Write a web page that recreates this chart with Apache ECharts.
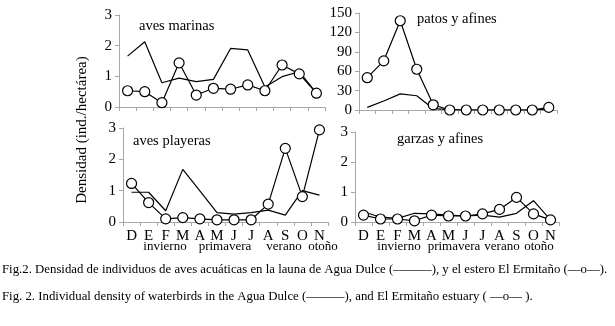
<!DOCTYPE html>
<html>
<head>
<meta charset="utf-8">
<script src="https://cdn.jsdelivr.net/npm/echarts@6/dist/echarts.min.js"></script>
<style>
  html, body { margin: 0; padding: 0; background: #fff; }
  #chart { width: 615px; height: 326px; }
</style>
</head>
<body>
<div id="chart"></div>
<script>
// months, Dec -> Nov
var months = ['D', 'E', 'F', 'M', 'A', 'M', 'J', 'J', 'A', 'S', 'O', 'N'];
var seasons = ['invierno', 'primavera', 'verano', 'otoño'];

// laguna de Agua Dulce (plain line) / estero El Ermitaño (line with circles)
var marinasDulce = [1.66, 2.13, 0.79, 0.94, 0.83, 0.90, 1.91, 1.86, 0.65, 0.99, 1.15, 0.45];
var marinasErmitano = [0.53, 0.50, 0.14, 1.44, 0.39, 0.61, 0.58, 0.72, 0.53, 1.37, 1.08, 0.45];

var patosDulce = [4, 14, 25, 22, 2, 0.5, 0, 0, 0, 0, 0, 1.5];
var patosErmitano = [50, 76, 138, 63, 8, 0, 0, 0, 0, 0, 0, 4];

var playerasDulce = [0.95, 0.95, 0.36, 1.68, 0.99, 0.30, 0.25, 0.30, 0.38, 0.22, 1.0, 0.86];
var playerasErmitano = [1.23, 0.62, 0.10, 0.14, 0.10, 0.07, 0.07, 0.07, 0.57, 2.35, 0.81, 2.94];

var garzasDulce = [0.34, 0.16, 0.12, 0.29, 0.27, 0.23, 0.20, 0.23, 0.16, 0.29, 0.71, 0.07];
var garzasErmitano = [0.23, 0.10, 0.10, 0.04, 0.23, 0.20, 0.20, 0.27, 0.42, 0.82, 0.27, 0.07];

var serif = '"Liberation Serif", "DejaVu Serif", serif';
var axisGray = '#a8a8a8';

var myChart = echarts.init(document.getElementById('chart'));

function xAx(idx, showLabels) {
  return {
    type: 'category',
    gridIndex: idx,
    data: months,
    boundaryGap: true,
    axisLine: { lineStyle: { color: axisGray, width: 1 } },
    axisTick: { show: true, interval: 0, length: 4, lineStyle: { color: axisGray } },
    axisLabel: {
      show: showLabels,
      interval: 0,
      margin: 7,
      color: '#000',
      fontFamily: serif,
      fontSize: 15
    },
    splitLine: { show: false }
  };
}

function yAx(idx, max, step) {
  return {
    type: 'value',
    gridIndex: idx,
    min: 0,
    max: max,
    interval: step,
    axisLine: { show: true, lineStyle: { color: axisGray, width: 1 } },
    axisTick: { show: true, length: 4, lineStyle: { color: axisGray } },
    axisLabel: { color: '#000', fontFamily: serif, fontSize: 15, margin: 7 },
    splitLine: { show: false }
  };
}

function lineSeries(idx, data) {
  return {
    type: 'line',
    xAxisIndex: idx,
    yAxisIndex: idx,
    data: data,
    symbol: 'none',
    lineStyle: { color: '#000', width: 1.2 },
    z: 2
  };
}

function circleSeries(idx, data) {
  return {
    type: 'line',
    xAxisIndex: idx,
    yAxisIndex: idx,
    data: data,
    symbol: 'circle',
    symbolSize: 10,
    showAllSymbol: true,
    lineStyle: { color: '#000', width: 1.2 },
    itemStyle: { color: '#fff', borderColor: '#000', borderWidth: 1.2 },
    z: 3
  };
}

function titleText(txt, x, y) {
  return {
    text: txt,
    left: x,
    top: y,
    padding: 0,
    textStyle: { color: '#000', fontFamily: serif, fontSize: 14.5, fontWeight: 'normal' }
  };
}

function seasonText(txt, x, y) {
  return {
    type: 'text',
    x: x,
    y: y,
    style: {
      text: txt,
      fill: '#000',
      font: '13px ' + serif,
      textAlign: 'center',
      textVerticalAlign: 'middle'
    }
  };
}

var graphics = [
  {
    type: 'text',
    x: 82,
    y: 130,
    rotation: Math.PI / 2,
    style: {
      text: 'Densidad (ind./hectárea)',
      fill: '#000',
      font: '15px ' + serif,
      textAlign: 'center',
      textVerticalAlign: 'middle'
    }
  },
  {
    type: 'text',
    x: 2,
    y: 270,
    style: {
      text: 'Fig.2. Densidad de individuos de aves acuáticas en la launa de Agua Dulce (———), y el estero El Ermitaño (—ο—).',
      fill: '#000',
      font: '12.8px ' + serif,
      textVerticalAlign: 'middle'
    }
  },
  {
    type: 'text',
    x: 2,
    y: 297,
    style: {
      text: 'Fig. 2. Individual density of waterbirds in the Agua Dulce (———), and El Ermitaño estuary ( —ο— ).',
      fill: '#000',
      font: '12.8px ' + serif,
      textVerticalAlign: 'middle'
    }
  }
];

var leftSeasonX = [165, 225, 284, 323];
var rightSeasonX = [399, 454, 502, 539];
for (var i = 0; i < seasons.length; i++) {
  graphics.push(seasonText(seasons[i], leftSeasonX[i], 247));
  graphics.push(seasonText(seasons[i], rightSeasonX[i], 247));
}

var option = {
  backgroundColor: '#fff',
  animation: false,
  title: [
    titleText('aves marinas', 139, 19),
    titleText('patos y afines', 417, 12),
    titleText('aves playeras', 133, 134),
    titleText('garzas y afines', 397, 132)
  ],
  grid: [
    { left: 119, top: 15, width: 206, height: 92 },
    { left: 359, top: 13, width: 198, height: 97 },
    { left: 123, top: 128, width: 205, height: 94 },
    { left: 355, top: 132, width: 204, height: 90 }
  ],
  xAxis: [xAx(0, false), xAx(1, false), xAx(2, true), xAx(3, true)],
  yAxis: [yAx(0, 3, 1), yAx(1, 150, 30), yAx(2, 3, 1), yAx(3, 3, 1)],
  series: [
    lineSeries(0, marinasDulce), circleSeries(0, marinasErmitano),
    lineSeries(1, patosDulce), circleSeries(1, patosErmitano),
    lineSeries(2, playerasDulce), circleSeries(2, playerasErmitano),
    lineSeries(3, garzasDulce), circleSeries(3, garzasErmitano)
  ],
  graphic: graphics
};

myChart.setOption(option);
</script>
</body>
</html>
